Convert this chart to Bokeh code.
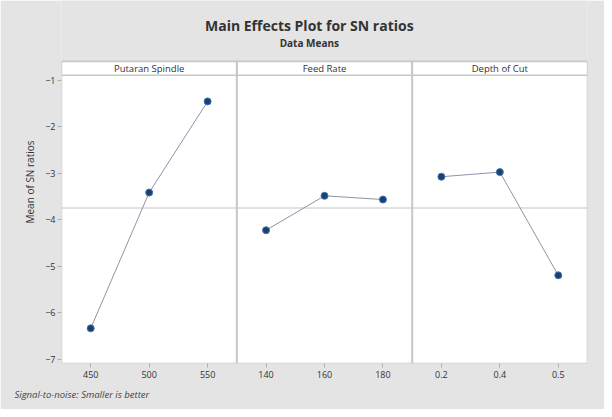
from bokeh.plotting import figure
from bokeh.models import FixedTicker, Range1d, Title
from bokeh.core.properties import value
from bokeh.embed import file_html
from bokeh.resources import INLINE

# ---- data ----
factor_names = ["Putaran Spindle", "Feed Rate", "Depth of Cut"]
spindle_levels = ["450", "500", "550"]
spindle_sn = [-6.33, -3.41, -1.45]
feed_levels = ["140", "160", "180"]
feed_sn = [-4.22, -3.48, -3.56]
depth_levels = ["0.2", "0.4", "0.5"]
depth_sn = [-3.07, -2.97, -5.19]
y_ticks = [-1, -2, -3, -4, -5, -6, -7]

levels = [spindle_levels, feed_levels, depth_levels]
means = [spindle_sn, feed_sn, depth_sn]
all_vals = spindle_sn + feed_sn + depth_sn
grand_mean = sum(all_vals) / len(all_vals)

FONT = "Open Sans"
BG = "#e4e4e4"
EDGE = "#c8c8c8"
Y_RANGE_TOP = 0.72     # top of canvas (title area)
Y_TOP = -0.59          # top of the panels (strip top)
Y_BOT = -7.086         # bottom of the panels
STRIP_H = 0.30

p = figure(width=604, height=409, output_backend="svg", toolbar_location=None,
           x_range=Range1d(0.5, 9.5), y_range=Range1d(Y_BOT, Y_RANGE_TOP),
           min_border_left=61, min_border_right=17, min_border_top=0,
           min_border_bottom=46)
p.border_fill_color = BG
p.background_fill_color = BG
p.outline_line_color = None
p.xgrid.visible = False
p.ygrid.visible = False

# panel background
p.quad(left=0.5, right=9.5, top=Y_TOP, bottom=Y_BOT,
       fill_color="white", line_color=EDGE, line_width=1.5)

# strips
for k, name in enumerate(factor_names):
    x0 = 0.5 + 3 * k
    p.quad(left=x0, right=x0 + 3, top=Y_TOP, bottom=Y_TOP - STRIP_H,
           fill_color="white", line_color=EDGE, line_width=1.5)
    p.text(x=[x0 + 1.5], y=[Y_TOP - STRIP_H / 2], text=[name],
           text_font=value(FONT), text_font_size="9.5px", text_color="#333333",
           text_align="center", text_baseline="middle")

# dividers
p.segment(x0=[3.5, 6.5], x1=[3.5, 6.5], y0=[Y_BOT, Y_BOT], y1=[Y_TOP, Y_TOP],
          line_color=EDGE, line_width=2)

# mean line
p.segment(x0=[0.5], x1=[9.5], y0=[grand_mean], y1=[grand_mean],
          line_color="#c4c4c4", line_width=1)

# data
tick_pos = []
overrides = {}
for k in range(3):
    xs = [3 * k + i + 1 for i in range(3)]
    p.line(xs, means[k], line_color="#8f93a8", line_width=1)
    p.scatter(xs, means[k], size=7, fill_color="#1d3f6e", line_color="#3a78b5", line_width=1)
    for xv, lab in zip(xs, levels[k]):
        tick_pos.append(xv)
        overrides[xv] = lab

p.xaxis.ticker = FixedTicker(ticks=tick_pos)
p.xaxis.major_label_overrides = overrides
p.yaxis.ticker = FixedTicker(ticks=y_ticks)
for ax in [p.xaxis[0], p.yaxis[0]]:
    ax.axis_line_color = None
    ax.major_tick_line_color = "#b0b0b0"
    ax.major_tick_out = 4
    ax.major_tick_in = 0
    ax.minor_tick_line_color = None
    ax.major_label_text_font = FONT
    ax.major_label_text_font_size = "9px"
    ax.major_label_text_color = "#333333"
p.xaxis.major_label_standoff = 3
p.yaxis.major_label_standoff = 2
p.yaxis.axis_label = "Mean of SN ratios"
p.yaxis.axis_label_text_font = FONT
p.yaxis.axis_label_text_font_size = "10px"
p.yaxis.axis_label_text_font_style = "normal"
p.yaxis.axis_label_text_color = "#333333"
p.yaxis.axis_label_standoff = 5

# titles
p.text(x=[4.74], y=[0.19], text=["Main Effects Plot for SN ratios"],
       text_font=value(FONT), text_font_size="14px", text_font_style="bold",
       text_color="#333333", text_align="center", text_baseline="middle")
p.text(x=[4.74], y=[-0.20], text=["Data Means"],
       text_font=value(FONT), text_font_size="10px", text_font_style="bold",
       text_color="#333333", text_align="center", text_baseline="middle")

# footnote
p.add_layout(Title(text="Signal-to-noise: Smaller is better", align="left", offset=-47,
                   text_font=FONT, text_font_size="9.5px", text_font_style="italic",
                   text_color="#444444", standoff=11), "below")

open("out.html", "w").write(file_html(p, INLINE))
